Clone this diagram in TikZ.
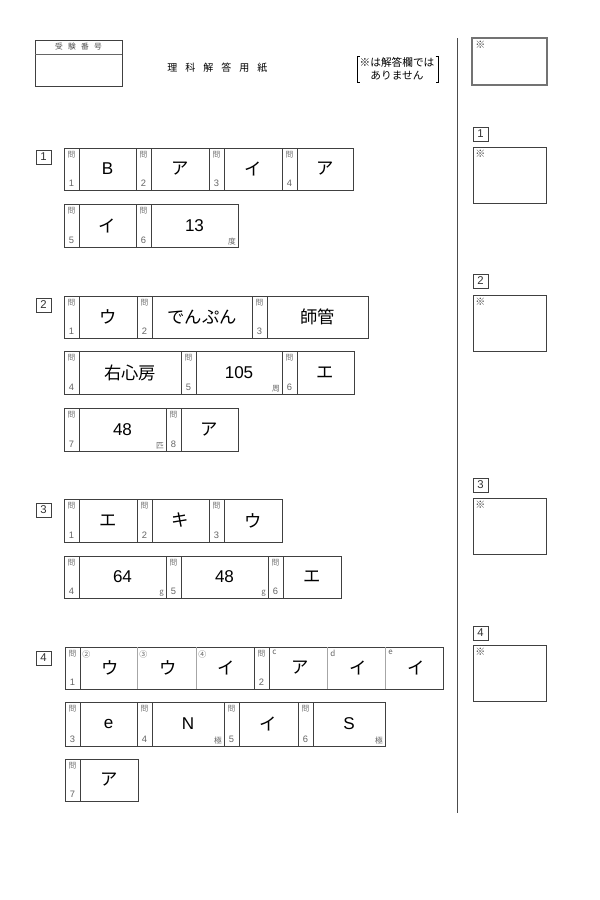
\documentclass[tikz,border=0pt]{standalone}
\usepackage{fontspec}
\setmainfont{Liberation Sans}
\newfontfamily\jp{Noto Sans CJK JP}
\tikzset{
  cell/.style={draw=black!75, line width=0.6pt},
  subline/.style={draw=black!35, line width=0.4pt},
  qmark/.style={font=\jp\fontsize{5.8}{6}\selectfont, text=black!55, inner sep=0pt},
  qnum/.style={font=\fontsize{7}{7}\selectfont, text=black!60, inner sep=0pt},
  answer/.style={font=\fontsize{12.8}{14}\selectfont, inner sep=0pt},
  unitlab/.style={font=\jp\fontsize{5.8}{6}\selectfont, text=black!60, inner sep=0pt, anchor=south east},
  sublab/.style={font=\jp\fontsize{6}{6}\selectfont, text=black!60, inner sep=0pt, anchor=north west},
  seclab/.style={font=\fontsize{8.5}{9}\selectfont, text=black!80, inner sep=0pt},
  markstar/.style={font=\jp\fontsize{7.5}{8}\selectfont, text=black!75, inner sep=0pt, anchor=north west},
}
\newcommand\JP[1]{{\jp\fontsize{13}{14}\selectfont #1}}
% question column: x1, ytop, ybottom, number
\newcommand\Qc[4]{%
  \draw[cell] (#1,#2) rectangle (#1+15,#3);
  \node[qmark] at (#1+7.5,#2+6.5) {問};
  \node[qnum] at (#1+7.5,#3-6.5) {#4};
}
% answer cell: x1, x2, ytop, ybottom, text, unit
\newcommand\Ac[6]{%
  \draw[cell] (#1,#3) rectangle (#2,#4);
  \node[answer] at ({(#1+#2)/2},{(#3+#4)/2}) {#5};
  \node[unitlab] at (#2-2,#4-1.5) {#6};
}
% section label box: x, ytop, text
\newcommand\Sec[3]{%
  \draw[cell] (#1,#2) rectangle (#1+15,#2+14);
  \node[seclab] at (#1+7.5,#2+7) {#3};
}
\begin{document}
\begin{tikzpicture}[x=0.75pt,y=-0.75pt]
\useasboundingbox[fill=white] (0,0) rectangle (600,900);

% ---------- header ----------
\draw[cell] (35,40) rectangle (122,86);
\draw[draw=black!60, line width=0.4pt] (35,54) -- (122,54);
\node[font=\jp\fontsize{5.8}{6}\selectfont, text=black!70, inner sep=0pt] (exam) at (78.5,47) {受\hspace{4pt}験\hspace{4pt}番\hspace{4pt}号};

\node[font=\jp\fontsize{7.5}{8}\selectfont, inner sep=0pt, anchor=west] (title) at (167,68)
  {理\hspace{6pt}科\hspace{6pt}解\hspace{6pt}答\hspace{6pt}用\hspace{6pt}紙};

\node[font=\jp\fontsize{8}{9.8}\selectfont, inner sep=0pt, align=center] (note) at (397,69)
  {※は解答欄では\\ありません};
\draw[line width=0.5pt] (359.5,56) -- (357,56) -- (357,82) -- (359.5,82);
\draw[line width=0.5pt] (435.5,56) -- (438,56) -- (438,82) -- (435.5,82);

% vertical divider
\draw[draw=black!70, line width=0.7pt] (457,38) -- (457,813);

% ---------- right column ----------
\draw[draw=black!55, line width=1.3pt] (472,38) rectangle (547,85);
\node[markstar] at (475,41) {※};

\Sec{473}{127}{1}
\draw[cell] (473,147) rectangle (546,203);
\node[markstar] at (475,150) {※};

\Sec{473}{274}{2}
\draw[cell] (473,295) rectangle (546,351);
\node[markstar] at (475,298) {※};

\Sec{473}{478}{3}
\draw[cell] (473,498) rectangle (546,554);
\node[markstar] at (475,501) {※};

\Sec{473}{626}{4}
\draw[cell] (473,645) rectangle (546,701);
\node[markstar] at (475,648) {※};

% ---------- section 1 ----------
\Sec{36}{150}{1}
\Qc{64}{148}{190}{1} \Ac{79}{136}{148}{190}{B}{}
\Qc{136}{148}{190}{2} \Ac{151}{209}{148}{190}{\JP{ア}}{}
\Qc{209}{148}{190}{3} \Ac{224}{282}{148}{190}{\JP{イ}}{}
\Qc{282}{148}{190}{4} \Ac{297}{353}{148}{190}{\JP{ア}}{}

\Qc{64}{204}{247}{5} \Ac{79}{136}{204}{247}{\JP{イ}}{}
\Qc{136}{204}{247}{6} \Ac{151}{238}{204}{247}{13}{度}

% ---------- section 2 ----------
\Sec{36}{298}{2}
\Qc{64}{296}{338}{1} \Ac{79}{137}{296}{338}{\JP{ウ}}{}
\Qc{137}{296}{338}{2} \Ac{152}{252}{296}{338}{\JP{でんぷん}}{}
\Qc{252}{296}{338}{3} \Ac{267}{368}{296}{338}{\JP{師管}}{}

\Qc{64}{351}{394}{4} \Ac{79}{181}{351}{394}{\JP{右心房}}{}
\Qc{181}{351}{394}{5} \Ac{196}{282}{351}{394}{105}{周}
\Qc{282}{351}{394}{6} \Ac{297}{354}{351}{394}{\JP{エ}}{}

\Qc{64}{408}{451}{7} \Ac{79}{166}{408}{451}{48}{匹}
\Qc{166}{408}{451}{8} \Ac{181}{238}{408}{451}{\JP{ア}}{}

% ---------- section 3 ----------
\Sec{36}{503}{3}
\Qc{64}{499}{542}{1} \Ac{79}{137}{499}{542}{\JP{エ}}{}
\Qc{137}{499}{542}{2} \Ac{152}{209}{499}{542}{\JP{キ}}{}
\Qc{209}{499}{542}{3} \Ac{224}{282}{499}{542}{\JP{ウ}}{}

\Qc{64}{556}{598}{4} \Ac{79}{166}{556}{598}{64}{g}
\Qc{166}{556}{598}{5} \Ac{181}{268}{556}{598}{48}{g}
\Qc{268}{556}{598}{6} \Ac{283}{341}{556}{598}{\JP{エ}}{}

% ---------- section 4 ----------
\Sec{36}{651}{4}
\Qc{65}{647}{689}{1}
\draw[cell] (80,647) rectangle (254,689);
\draw[subline] (137,647) -- (137,689);
\draw[subline] (196,647) -- (196,689);
\node[answer] at (110,668) {\JP{ウ}};
\node[answer] at (168,668) {\JP{ウ}};
\node[answer] at (226,668) {\JP{イ}};
\node[sublab] at (82,650) {②};
\node[sublab] at (139,650) {③};
\node[sublab] at (198,650) {④};
\Qc{254}{647}{689}{2}
\draw[cell] (269,647) rectangle (443,689);
\draw[subline] (327,647) -- (327,689);
\draw[subline] (385,647) -- (385,689);
\node[answer] at (300,668) {\JP{ア}};
\node[answer] at (358,668) {\JP{イ}};
\node[answer] at (416,668) {\JP{イ}};
\node[sublab] at (272,650) {c};
\node[sublab] at (330,650) {d};
\node[sublab] at (388,650) {e};

\Qc{65}{702}{746}{3} \Ac{80}{137}{702}{746}{e}{}
\Qc{137}{702}{746}{4} \Ac{152}{224}{702}{746}{N}{極}
\Qc{224}{702}{746}{5} \Ac{239}{298}{702}{746}{\JP{イ}}{}
\Qc{298}{702}{746}{6} \Ac{313}{385}{702}{746}{S}{極}

\Qc{65}{759}{801}{7} \Ac{80}{138}{759}{801}{\JP{ア}}{}
\end{tikzpicture}
\end{document}
